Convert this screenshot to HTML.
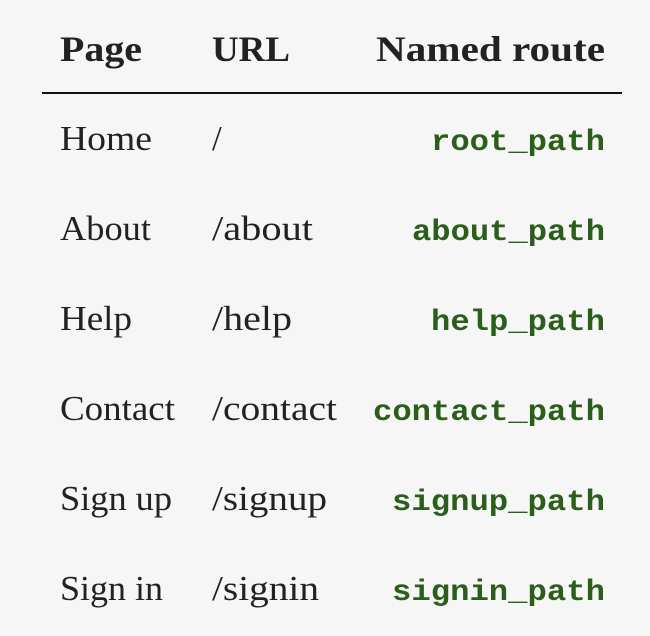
<!DOCTYPE html>
<html><head><style>html,body{margin:0;padding:0;background:#f6f6f6;}svg{display:block}</style></head>
<body>
<svg width="650" height="636" xmlns="http://www.w3.org/2000/svg">
<rect width="650" height="636" fill="#f6f6f6"/>
<g font-family="Liberation Serif, serif" font-size="36" fill="#222" font-weight="bold">
<text x="60" y="61" textLength="82" lengthAdjust="spacingAndGlyphs">Page</text>
<text x="212" y="61" textLength="78" lengthAdjust="spacingAndGlyphs">URL</text>
<text x="376" y="61" textLength="229" lengthAdjust="spacingAndGlyphs">Named route</text>
</g>
<rect x="42" y="92" width="580" height="2" fill="#111"/>
<g font-family="Liberation Serif, serif" font-size="35" fill="#222">
<text x="60" y="150" textLength="92" lengthAdjust="spacingAndGlyphs">Home</text>
<text x="212" y="150">/</text>
<text x="60" y="240" textLength="91" lengthAdjust="spacingAndGlyphs">About</text>
<text x="212" y="240" textLength="101" lengthAdjust="spacingAndGlyphs">/about</text>
<text x="60" y="330" textLength="72" lengthAdjust="spacingAndGlyphs">Help</text>
<text x="212" y="330" textLength="80" lengthAdjust="spacingAndGlyphs">/help</text>
<text x="60" y="420" textLength="115" lengthAdjust="spacingAndGlyphs">Contact</text>
<text x="212" y="420" textLength="125" lengthAdjust="spacingAndGlyphs">/contact</text>
<text x="60" y="510" textLength="112" lengthAdjust="spacingAndGlyphs">Sign up</text>
<text x="212" y="510" textLength="115" lengthAdjust="spacingAndGlyphs">/signup</text>
<text x="60" y="600" textLength="103" lengthAdjust="spacingAndGlyphs">Sign in</text>
<text x="212" y="600" textLength="107" lengthAdjust="spacingAndGlyphs">/signin</text>
</g>
<g font-family="Liberation Mono, monospace" font-size="30" font-weight="bold" fill="#2a5e1a" text-anchor="end">
<text x="605" y="150" textLength="174" lengthAdjust="spacingAndGlyphs">root_path</text>
<text x="605" y="240" textLength="193" lengthAdjust="spacingAndGlyphs">about_path</text>
<text x="605" y="330" textLength="174" lengthAdjust="spacingAndGlyphs">help_path</text>
<text x="605" y="420" textLength="232" lengthAdjust="spacingAndGlyphs">contact_path</text>
<text x="605" y="510" textLength="213" lengthAdjust="spacingAndGlyphs">signup_path</text>
<text x="605" y="600" textLength="213" lengthAdjust="spacingAndGlyphs">signin_path</text>
</g>
</svg>
</body></html>
